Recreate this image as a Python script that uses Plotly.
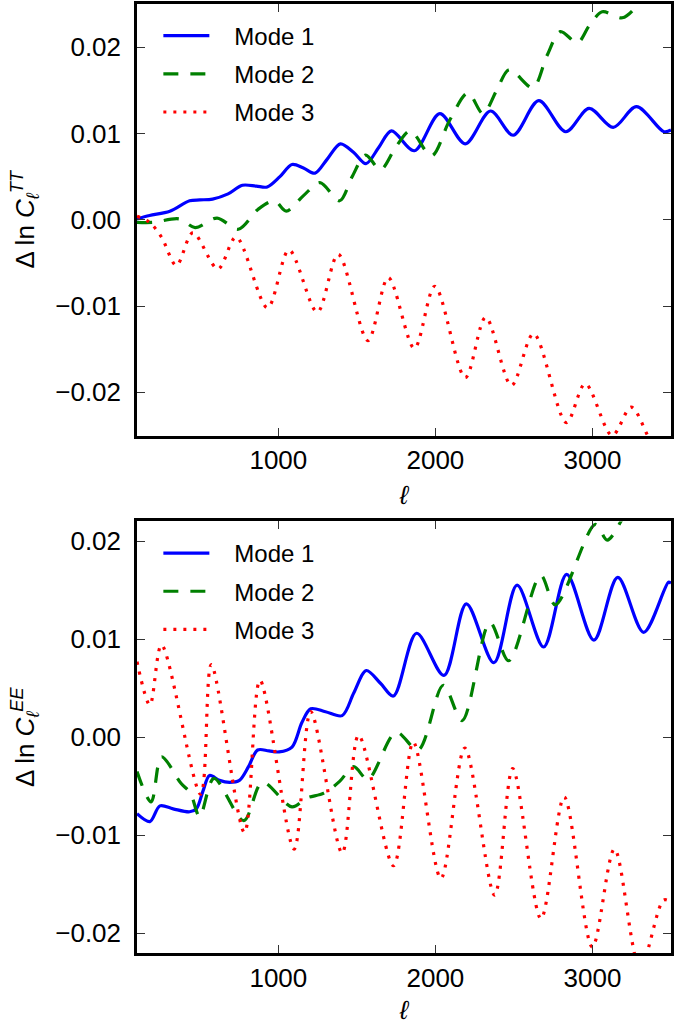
import plotly.graph_objects as go

# ---------------- data ----------------
# Top panel: Delta ln C_l^TT
tt1_ell = [100, 180, 309, 435, 500, 581, 680, 771, 860, 929, 1010, 1087, 1160, 1233, 1310, 1395, 1480, 1558, 1640, 1720,
           1866, 2028, 2190, 2351, 2495, 2658, 2830, 2978, 3132, 3280, 3455, 3500]
tt1_val = [0.0001, 0.0005, 0.0010, 0.0022, 0.0023, 0.0024, 0.0030, 0.0040, 0.0039, 0.0038, 0.0050, 0.0064, 0.0060,
           0.0054, 0.0070, 0.0088, 0.0078, 0.0065, 0.0084, 0.0103, 0.0080, 0.0123, 0.0088, 0.0126, 0.0098, 0.0138,
           0.0102, 0.0129, 0.0107, 0.0131, 0.0102, 0.0104]

tt2_ell = [100, 200, 370, 470, 610, 745, 870, 975, 1050, 1160, 1265, 1390, 1470, 1556, 1650, 1750, 1840, 1975, 2090,
           2207, 2303, 2390, 2470, 2620, 2710, 2796, 2904, 2980, 3062, 3190, 3300, 3400, 3500]
tt2_val = [-0.0003, -0.0003, 0.0001, -0.0009, 0.0002, -0.0011, 0.0012, 0.0022, 0.0010, 0.0028, 0.0043, 0.0022, 0.0050,
           0.0075, 0.0058, 0.0085, 0.0103, 0.0074, 0.0115, 0.0147, 0.0123, 0.0150, 0.0174, 0.0153, 0.0190, 0.0218,
           0.0205, 0.0225, 0.0241, 0.0234, 0.0252, 0.0285, 0.0310]

tt3_ell = [100, 180, 256, 351, 456, 615, 731, 931, 1068, 1248, 1381, 1570, 1700, 1866, 1996, 2190, 2320, 2484, 2625,
           2834, 2954, 3125, 3246, 3351, 3450, 3500]
tt3_val = [0.0004, -0.0003, -0.0020, -0.0053, -0.0015, -0.0057, -0.0020, -0.0102, -0.0035, -0.0107, -0.0040, -0.0140,
           -0.0067, -0.0149, -0.0077, -0.0183, -0.0113, -0.0192, -0.0132, -0.0235, -0.0190, -0.0250, -0.0217, -0.0250,
           -0.0290, -0.0300]

# Bottom panel: Delta ln C_l^EE
ee1_ell = [100, 182, 246, 330, 435, 478, 520, 562, 625, 689, 752, 810, 868, 940, 1005, 1087, 1150, 1206, 1300, 1406,
           1480, 1560, 1650, 1733, 1880, 2054, 2197, 2372, 2520, 2689, 2836, 3009, 3161, 3326, 3484, 3500]
ee1_val = [-0.0078, -0.0086, -0.0070, -0.0073, -0.0076, -0.0073, -0.0055, -0.0039, -0.0044, -0.0046, -0.0044, -0.0030,
           -0.0013, -0.0014, -0.0015, -0.0010, 0.0015, 0.0029, 0.0026, 0.0022, 0.0045, 0.0068, 0.0055, 0.0042, 0.0106,
           0.0063, 0.0136, 0.0076, 0.0155, 0.0092, 0.0166, 0.0099, 0.0163, 0.0107, 0.0158, 0.0157]

ee2_ell = [100, 190, 256, 380, 440, 499, 590, 780, 898, 1087, 1180, 1290, 1390, 1480, 1570, 1750, 1890, 2050, 2170,
           2347, 2467, 2670, 2764, 3018, 3094, 3200, 3350, 3500]
ee2_val = [-0.0035, -0.0066, -0.0020, -0.0047, -0.0057, -0.0081, -0.0042, -0.0085, -0.0046, -0.0071, -0.0062, -0.0057,
           -0.0045, -0.0030, -0.0043, 0.0005, -0.0013, 0.0053, 0.0017, 0.0117, 0.0078, 0.0165, 0.0135, 0.0217, 0.0201,
           0.0225, 0.0260, 0.0290]

ee3_ell = [100, 182, 256, 505, 573, 784, 883, 1100, 1206, 1406, 1511, 1733, 1859, 2035, 2187, 2377, 2492, 2672, 2820,
           2999, 3140, 3303, 3453, 3500]
ee3_val = [0.0077, 0.0033, 0.0094, -0.0058, 0.0074, -0.0097, 0.0058, -0.0114, 0.0026, -0.0118, 0.0002, -0.0131,
           -0.0005, -0.0144, -0.0011, -0.0161, -0.0032, -0.0185, -0.0061, -0.0214, -0.0114, -0.0235, -0.0166, -0.0168]

x_range = [100, 3500]
x_ticks = [1000, 2000, 3000]
x_ticktext = ["1000", "2000", "3000"]
y_ticks = [-0.02, -0.01, 0.0, 0.01, 0.02]
y_ticktext = ["\u22120.02", "\u22120.01", "0.00", "0.01", "0.02"]
tt_range = [-0.025, 0.025]
ee_range = [-0.022, 0.022]
names = ["Mode 1", "Mode 2", "Mode 3"]

# ---------------- figure ----------------
FONT = "Liberation Sans, Arial, sans-serif"
styles = [
    dict(color="#0000ff", width=3.2, dash="solid"),
    dict(color="#008000", width=3.2, dash="15px,12px"),
    dict(color="#ff0000", width=3.2, dash="3px,7px"),
]
PAD = "\u00a0\u00a0\u00a0"  # visual gap between legend line sample and label

fig = go.Figure()
top = [(tt1_ell, tt1_val), (tt2_ell, tt2_val), (tt3_ell, tt3_val)]
bot = [(ee1_ell, ee1_val), (ee2_ell, ee2_val), (ee3_ell, ee3_val)]
for i, (xs, ys) in enumerate(top):
    fig.add_trace(go.Scatter(x=xs, y=ys, mode="lines", name=PAD + names[i], legendgroup="t%d" % i,
                             line=dict(shape="spline", smoothing=0.9, **styles[i]),
                             xaxis="x", yaxis="y", legend="legend"))
for i, (xs, ys) in enumerate(bot):
    fig.add_trace(go.Scatter(x=xs, y=ys, mode="lines", name=PAD + names[i], legendgroup="b%d" % i,
                             line=dict(shape="spline", smoothing=0.9, **styles[i]),
                             xaxis="x2", yaxis="y2", legend="legend2"))

H_TOT = 950.0
top_dom = [(953 - 435) / H_TOT, 1.0]
bot_dom = [0.0, (953 - 521) / H_TOT]

axis_common = dict(
    showline=True, linecolor="black", linewidth=2.5, mirror="ticks",
    ticks="inside", ticklen=8, tickwidth=1.2, tickcolor="#333333",
    showgrid=False, zeroline=False,
    tickfont=dict(family=FONT, size=26, color="black"),
)

title_font = dict(family=FONT, size=26, color="black")
legend_font = dict(family=FONT, size=24, color="black")

fig.update_layout(
    width=675, height=1025,
    margin=dict(l=137, r=1, t=3, b=72),
    plot_bgcolor="white", paper_bgcolor="white",
    font=dict(family=FONT, size=24, color="black"),
    xaxis=dict(domain=[0, 1], anchor="y", range=x_range, tickvals=x_ticks, ticktext=x_ticktext,
               title=dict(text="<i>ℓ</i>", font=title_font, standoff=12), **axis_common),
    yaxis=dict(domain=top_dom, anchor="x", range=tt_range, tickvals=y_ticks, ticktext=y_ticktext,
               ticklabelstandoff=8,
               title=dict(text="Δ ln <i>C</i><sub><i>ℓ</i></sub><sup><i>TT</i></sup>", font=title_font, standoff=14),
               **axis_common),
    xaxis2=dict(domain=[0, 1], anchor="y2", range=x_range, tickvals=x_ticks, ticktext=x_ticktext,
                title=dict(text="<i>ℓ</i>", font=title_font, standoff=12), **axis_common),
    yaxis2=dict(domain=bot_dom, anchor="x2", range=ee_range, tickvals=y_ticks, ticktext=y_ticktext,
                ticklabelstandoff=8,
                title=dict(text="Δ ln <i>C</i><sub><i>ℓ</i></sub><sup><i>EE</i></sup>", font=title_font, standoff=14),
                **axis_common),
    legend=dict(x=0.04, y=0.99, xanchor="left", yanchor="top", bgcolor="rgba(0,0,0,0)",
                font=legend_font, itemwidth=46, tracegroupgap=4),
    legend2=dict(x=0.04, y=bot_dom[1] - 0.01, xanchor="left", yanchor="top", bgcolor="rgba(0,0,0,0)",
                 font=legend_font, itemwidth=46, tracegroupgap=4),
)

fig.write_html("out.html", config={"displayModeBar": False},
               post_script="document.body.style.margin='0';")
